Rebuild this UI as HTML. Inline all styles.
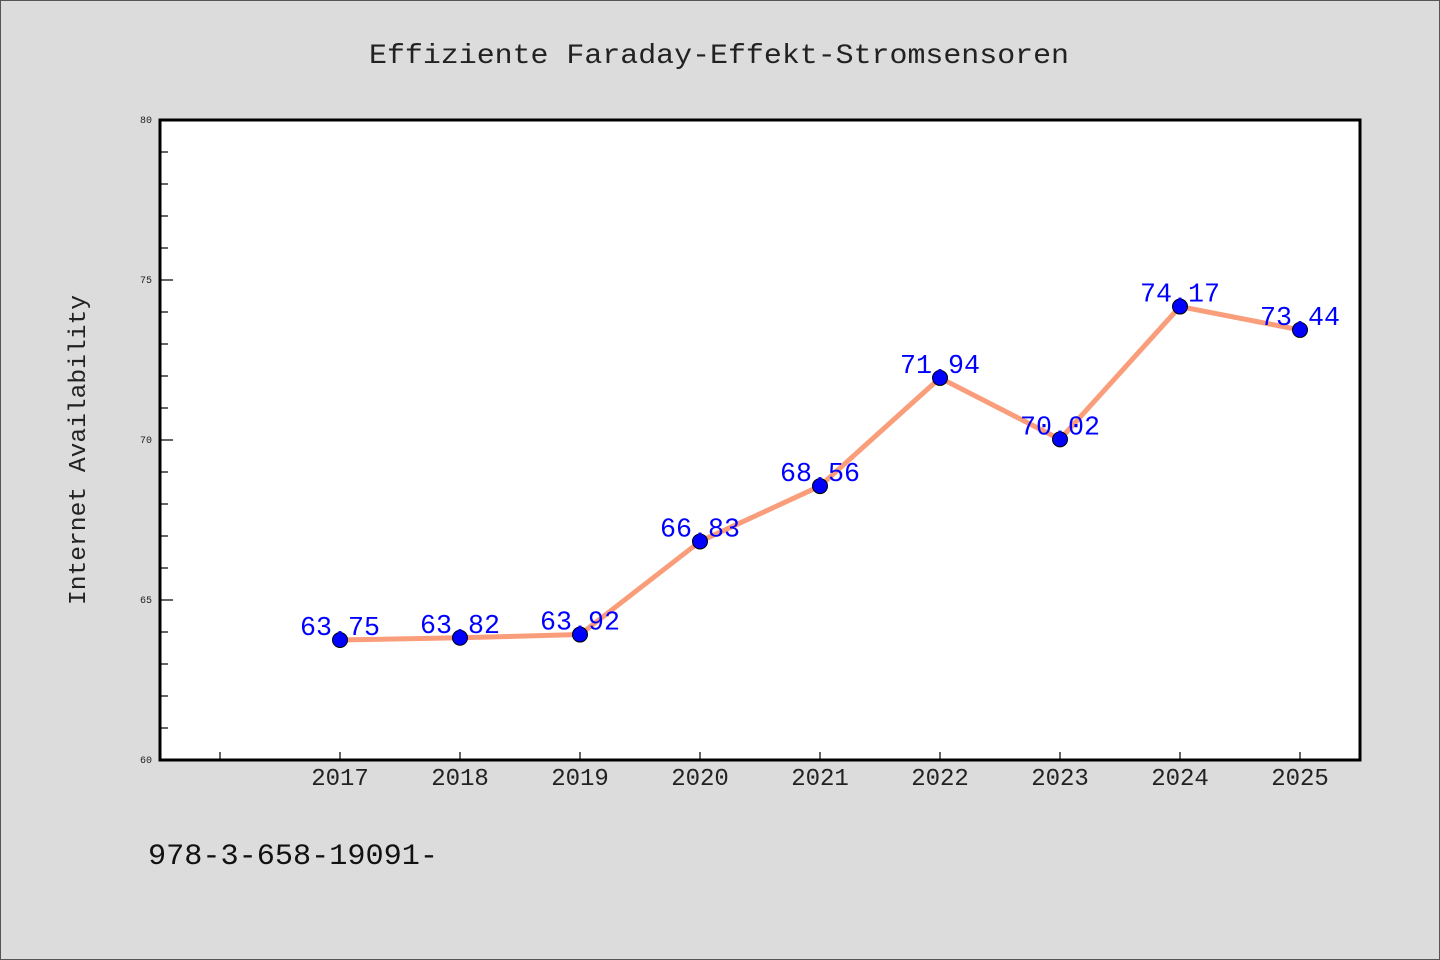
<!DOCTYPE html>
<html><head><meta charset="utf-8"><style>
body{margin:0;background:#dcdcdc;}
svg{display:block;}
text{font-family:"WenQuanYi Zen Hei Mono","WenQuanYi Zen Hei","Liberation Mono",monospace;}
</style></head><body>
<svg id="chart" width="1440" height="960" xmlns="http://www.w3.org/2000/svg">
<rect x="0.5" y="0.5" width="1439" height="959" fill="#dcdcdc" stroke="#555"/>
<text x="719" y="63" font-size="28" text-anchor="middle" textLength="700" lengthAdjust="spacingAndGlyphs" fill="#222">Effiziente Faraday-Effekt-Stromsensoren</text>
<rect x="160" y="120" width="1200" height="640" fill="#fff"/>
<g id="axes"></g>
<g id="series"></g>
<rect x="160" y="120" width="1200" height="640" fill="none" stroke="#000" stroke-width="3"/>
<text transform="translate(85,450) rotate(-90)" font-size="24" text-anchor="middle" textLength="310" lengthAdjust="spacingAndGlyphs" fill="#222">Internet Availability</text>
<text x="148" y="864" font-size="30" textLength="290" lengthAdjust="spacingAndGlyphs" fill="#111">978-3-658-19091-</text>
</svg>
<script>
const years = [2017,2018,2019,2020,2021,2022,2023,2024,2025];
const values = [63.75,63.82,63.92,66.83,68.56,71.94,70.02,74.17,73.44];
const yTickLabels = [60,65,70,75,80];
const NS="http://www.w3.org/2000/svg";
function xs(v){return 160+(v-2015.5)*120;}
function ys(v){return 760-(v-60)*32;}
function mk(tag,attrs,parent){const e=document.createElementNS(NS,tag);for(const k in attrs)e.setAttribute(k,attrs[k]);parent.appendChild(e);return e;}
const axes=document.getElementById('axes');
const series=document.getElementById('series');
for(let v=60;v<=80;v++){
  const major=(v%5===0);
  const t=mk('line',{x1:160,x2:major?173:168,y1:ys(v),y2:ys(v),stroke:'#000','stroke-width':1.2},axes);
  
  
}
yTickLabels.forEach(v=>{
  const t=mk('text',{x:152,y:ys(v)+3,'font-size':10,'text-anchor':'end',fill:'#222'},axes);
  t.textContent=v;
  
  
});
[2016].concat(years).forEach(y=>{
  const t=mk('line',{x1:xs(y),x2:xs(y),y1:760,y2:752,stroke:'#000','stroke-width':1.2},axes);
  
  
});
years.forEach(y=>{
  const t=mk('text',{x:xs(y),y:785,'font-size':24,'text-anchor':'middle',fill:'#222'},axes);
  t.textContent=y;
  
  
});
const pts=years.map((y,i)=>xs(y)+','+ys(values[i])).join(' ');
const line=mk('polyline',{points:pts,fill:'none',stroke:'#fa9d7b','stroke-width':5,'stroke-linejoin':'round'},series);


years.forEach((y,i)=>{
  const c=mk('circle',{cx:xs(y),cy:ys(values[i]),r:7.5,fill:'#0000ff',stroke:'#000','stroke-width':1},series);
  
  
});
years.forEach((y,i)=>{
  const t=mk('text',{x:xs(y),y:ys(values[i])-5,'font-size':27,'text-anchor':'middle',fill:'#0000ff',textLength:80,lengthAdjust:'spacingAndGlyphs'},series);
  t.textContent=values[i].toFixed(2);
  
  
});
</script>
</body></html>
